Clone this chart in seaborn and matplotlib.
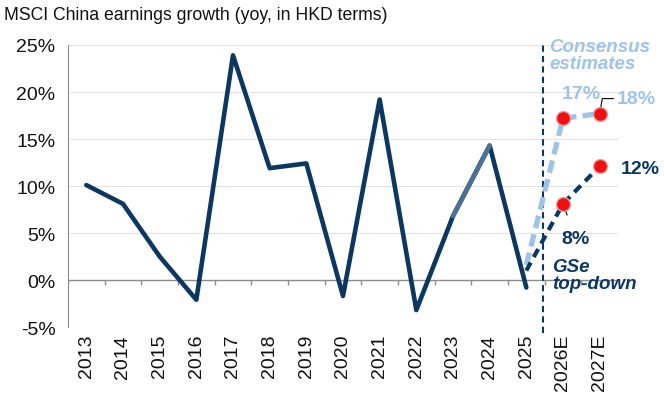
import numpy as np
import pandas as pd
import seaborn as sns
import matplotlib.pyplot as plt

years = ['2013', '2014', '2015', '2016', '2017', '2018', '2019', '2020',
         '2021', '2022', '2023', '2024', '2025', '2026E', '2027E']
hist = [10.1, 8.1, 2.5, -2.1, 23.9, 11.9, 12.4, -1.7, 19.2, -3.2, 6.8, 14.3, -0.8]
fc_years = ['2025', '2026E', '2027E']
consensus = [1.6, 17.2, 17.7]
gse = [1.0, 8.1, 12.1]

navy = '#0b3761'
mid = '#4d7193'
light = '#9dc3e6'

sns.set_style('white')
plt.rcParams['font.family'] = ['Liberation Sans', 'DejaVu Sans']

pos = {y: i for i, y in enumerate(years)}
df = pd.DataFrame({'x': [pos[y] for y in years[:13]], 'v': hist})
fc = pd.DataFrame({'x': [pos[y] for y in fc_years], 'cons': consensus, 'gse': gse})

fig = plt.figure(figsize=(6.64, 4.06), dpi=100)
ax = fig.add_axes([0.1024, 0.1921, 0.8283, 0.6946])

# gridlines
for g in [5, 10, 15, 20, 25, -5]:
    ax.axhline(g, color='#e3e3e3', lw=0.8, zorder=0)
ax.axhline(0, color='#8c8c8c', lw=1, zorder=1)
ax.vlines(np.arange(-0.5, 15), -0.55, 0, color='#8c8c8c', lw=1, zorder=1)

sns.lineplot(data=df, x='x', y='v', color=navy, lw=3.3, ax=ax, zorder=3)
seg = df.iloc[10:12]
sns.lineplot(data=seg, x='x', y='v', color=mid, lw=3.3, ax=ax, zorder=4)

ax.plot(fc['x'], fc['cons'], color=light, lw=3.8, ls=(0, (2.4, 1.2)), zorder=3)
ax.plot(fc['x'], fc['gse'], color=navy, lw=3.0, ls=(0, (2.2, 1.5)), zorder=3)
ax.plot(fc['x'][1:], fc['cons'][1:], ls='none', marker='o', ms=10,
        mfc='#ee1111', mec='#f29a9a', mew=1, zorder=5)
ax.plot(fc['x'][1:], fc['gse'][1:], ls='none', marker='o', ms=10,
        mfc='#ee1111', mec='#f29a9a', mew=1, zorder=5)

ax.axvline(12.45, color=navy, lw=1.5, ls=(0, (3, 2)), zorder=2, ymin=-0.02, clip_on=False)

ax.set_xlim(-0.5, 14.5)
ax.set_ylim(-5, 25)
ax.set_yticks(range(-5, 30, 5))
ax.set_yticklabels([f'{t}%' for t in range(-5, 30, 5)], fontsize=14, color='#111111')
ax.set_xticks(range(len(years)))
ax.set_xticklabels(years, rotation=90, fontsize=14, color='#111111')
ax.tick_params(axis='x', length=0, pad=5)
ax.tick_params(axis='y', length=5, color='#8c8c8c', direction='out', width=1, pad=4)
ax.set_xlabel('')
ax.set_ylabel('')
for s in ['top', 'right', 'bottom']:
    ax.spines[s].set_visible(False)
ax.spines['left'].set_color('#8c8c8c')

ax.text(12.62, 25.7, 'Consensus\nestimates', color=light, fontsize=13.5,
        fontweight='bold', style='italic', ha='left', va='top', linespacing=0.95)
ax.text(12.7, 0.5, 'GSe\ntop-down', color=navy, fontsize=13.5,
        fontweight='bold', style='italic', ha='left', va='center', linespacing=1.0)

ax.annotate('17%', xy=(13, 17.2), xytext=(13.5, 19.8), color=light, fontsize=14,
            fontweight='bold', ha='center', va='center',
            arrowprops=dict(arrowstyle='-', color='black', lw=0.8, shrinkA=7, shrinkB=4))
ax.annotate('18%', xy=(14, 17.7), xytext=(15.0, 19.3), color=light, fontsize=14,
            fontweight='bold', ha='center', va='center', annotation_clip=False,
            arrowprops=dict(arrowstyle='-', color='black', lw=0.8, shrinkA=20, shrinkB=4,
                            connectionstyle='angle,angleA=0,angleB=80'))
ax.text(15.1, 11.9, '12%', color=navy, fontsize=14, fontweight='bold',
        ha='center', va='center', clip_on=False)
ax.annotate('8%', xy=(13, 8.1), xytext=(13.35, 4.4), color=navy, fontsize=14,
            fontweight='bold', ha='center', va='center',
            arrowprops=dict(arrowstyle='-', color='black', lw=0.8, shrinkA=9, shrinkB=4))

fig.text(0.006, 0.962, 'MSCI China earnings growth (yoy, in HKD terms)',
         fontsize=12.7, color='#111111', ha='left', va='center')

fig.savefig('out.png', dpi=100)
